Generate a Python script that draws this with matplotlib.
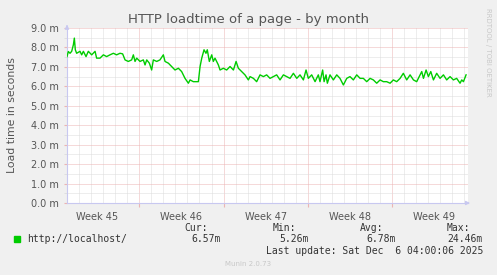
import matplotlib
matplotlib.use("Agg")
import matplotlib.pyplot as plt
from matplotlib.patches import Rectangle

# time axis in days since start of graph, load time in milliseconds
days = [0.0, 0.11, 0.25, 0.39, 0.53, 0.61, 0.69, 0.80, 1.08, 1.22, 1.36, 1.58, 1.77, 2.05,
        2.33, 2.46, 2.74, 3.02, 3.29, 3.57, 3.85, 4.12, 4.40, 4.62, 4.82, 5.09, 5.37, 5.51,
        5.65, 5.79, 6.06, 6.34, 6.48, 6.62, 6.84, 7.03, 7.17, 7.45, 7.72, 8.00, 8.14, 8.42,
        8.69, 8.97, 9.25, 9.52, 9.80, 10.08, 10.22, 10.49, 10.77, 10.91, 11.05, 11.19, 11.38,
        11.54, 11.65, 11.82, 12.02, 12.15, 12.29, 12.57, 12.71, 12.98, 13.26, 13.54, 13.82,
        14.04, 14.23, 14.51, 14.78, 15.06, 15.20, 15.48, 15.75, 16.03, 16.31, 16.58, 16.86,
        17.14, 17.41, 17.69, 17.97, 18.24, 18.52, 18.80, 19.08, 19.35, 19.63, 19.85, 20.04,
        20.32, 20.60, 20.87, 21.01, 21.23, 21.35, 21.51, 21.62, 21.84, 22.12, 22.40, 22.67,
        22.95, 23.23, 23.50, 23.78, 24.06, 24.34, 24.61, 24.89, 25.17, 25.44, 25.72, 26.00,
        26.27, 26.55, 26.83, 27.10, 27.38, 27.66, 27.93, 28.21, 28.49, 28.77, 29.04, 29.32,
        29.46, 29.60, 29.82, 30.01, 30.21, 30.43, 30.70, 30.98, 31.26, 31.53, 31.81, 32.09,
        32.36, 32.64, 32.78, 32.92, 33.14]
load_ms = [7.53, 7.79, 7.70, 7.80, 8.14, 8.48, 7.88, 7.70, 7.80, 7.62, 7.80, 7.53, 7.80, 7.62,
           7.80, 7.45, 7.45, 7.62, 7.53, 7.62, 7.70, 7.62, 7.70, 7.67, 7.36, 7.28, 7.36, 7.62,
           7.28, 7.45, 7.28, 7.36, 7.10, 7.36, 7.19, 6.84, 7.36, 7.28, 7.36, 7.62, 7.28, 7.19,
           7.02, 6.84, 6.93, 6.76, 6.41, 6.16, 6.33, 6.24, 6.24, 6.24, 7.02, 7.45, 7.88,
           7.70, 7.88, 7.28, 7.62, 7.28, 7.45, 7.10, 6.84, 6.93, 6.84, 7.02, 6.84,
           7.28, 6.93, 6.76, 6.59, 6.33, 6.50, 6.41, 6.24, 6.59, 6.50, 6.59, 6.41,
           6.50, 6.59, 6.33, 6.59, 6.50, 6.41, 6.67, 6.41, 6.59, 6.33, 6.84, 6.41,
           6.59, 6.24, 6.59, 6.24, 6.84, 6.24, 6.59, 6.16, 6.59, 6.33, 6.59, 6.41,
           6.07, 6.41, 6.50, 6.33, 6.59, 6.41, 6.41, 6.24, 6.41, 6.33, 6.16, 6.33,
           6.24, 6.24, 6.16, 6.33, 6.24, 6.41, 6.67, 6.33, 6.59, 6.33, 6.24, 6.59,
           6.76, 6.41, 6.84, 6.50, 6.76, 6.33, 6.67, 6.41, 6.59, 6.33, 6.50, 6.33,
           6.41, 6.16, 6.33, 6.24, 6.59]

week_labels = ["Week 45", "Week 46", "Week 47", "Week 48", "Week 49"]
week_centers = [2.5, 9.5, 16.5, 23.5, 30.5]
week_starts = [6, 13, 20, 27]

series_name = "http://localhost/"
cur, vmin, avg, vmax = "6.57m", "5.26m", "6.78m", "24.46m"

W, H = 497, 275
fig = plt.figure(figsize=(W / 100, H / 100), dpi=100, facecolor="#f0f0f0")
ax = fig.add_axes([67 / W, (H - 203) / H, (468 - 67) / W, (203 - 28) / H])
ax.set_facecolor("white")

ax.plot(days, load_ms, color="#00cc00", lw=1.0, zorder=3)

ax.set_xlim(0, 33.3)
ax.set_ylim(0, 9)

ax.set_xticks(week_starts)
ax.set_xticks(range(0, 34), minor=True)
ax.set_yticks(range(0, 10))
ax.set_yticks([i + 0.5 for i in range(9)], minor=True)
ax.set_xticklabels([])
ax.set_yticklabels([f"{v:.1f} m" for v in range(0, 10)])

ax.grid(which="minor", color="#dcdcdc", lw=0.72, linestyle=(0, (1, 1)))
ax.grid(which="major", color="#ecb4b4", lw=0.72, linestyle=(0, (1, 1)))
ax.set_axisbelow(True)

ax.tick_params(axis="y", which="major", length=2.5, color="#ecb4b4", labelsize=7,
               labelcolor="#555555", pad=3)
ax.tick_params(axis="y", which="minor", length=2, color="#dcdcdc")
ax.tick_params(axis="x", which="minor", length=0)
ax.tick_params(axis="x", which="major", length=3, color="#ecb4b4", direction="out")

for side in ["top", "right"]:
    ax.spines[side].set_visible(False)
ax.spines["left"].set_color("#c8c8f0")
ax.spines["bottom"].set_color("#c8c8f0")

# axis arrows
ax.annotate("", xy=(0, 1.035), xytext=(0, 0.99), xycoords="axes fraction",
            arrowprops=dict(arrowstyle="-|>", color="#c8c8f0", lw=0.8, mutation_scale=6))
ax.annotate("", xy=(1.012, 0), xytext=(0.99, 0), xycoords="axes fraction",
            arrowprops=dict(arrowstyle="-|>", color="#c8c8f0", lw=0.8, mutation_scale=6))

for lab, c in zip(week_labels, week_centers):
    ax.text(c, -0.05, lab, transform=ax.get_xaxis_transform(), ha="center", va="top",
            fontsize=7, color="#555555")

ax.set_ylabel("Load time in seconds", fontsize=7.8, color="#555555")
ax.yaxis.set_label_coords(-50 / 401, 0.5)

fig.text(248 / W, 1 - 19 / H, "HTTP loadtime of a page - by month", ha="center", va="center",
         fontsize=9.5, color="#555555")
fig.text(488 / W, 1 - 52 / H, "RRDTOOL / TOBI OETIKER", rotation=-90, ha="center",
         va="center", fontsize=5, color="#c8c8c8")

mono = dict(family="DejaVu Sans Mono", fontsize=7, color="#333333")
fig.add_artist(Rectangle((14 / W, 1 - 242 / H), 6 / W, 6 / H, transform=fig.transFigure,
                         color="#00cc00"))
fig.text(27 / W, 1 - 239 / H, series_name, ha="left", va="center", **mono)
for head, hx, val, vx in [("Cur:", 208, cur, 221), ("Min:", 296, vmin, 309),
                          ("Avg:", 383, avg, 396), ("Max:", 470, vmax, 483)]:
    fig.text(hx / W, 1 - 228 / H, head, ha="right", va="center", **mono)
    fig.text(vx / W, 1 - 239 / H, val, ha="right", va="center", **mono)
fig.text(483 / W, 1 - 251 / H, "Last update: Sat Dec  6 04:00:06 2025", ha="right",
         va="center", **mono)
fig.text(248 / W, 1 - 264 / H, "Munin 2.0.73", ha="center", va="center", fontsize=5,
         color="#c8c8c8")

fig.savefig("out.png", dpi=100, facecolor=fig.get_facecolor())
